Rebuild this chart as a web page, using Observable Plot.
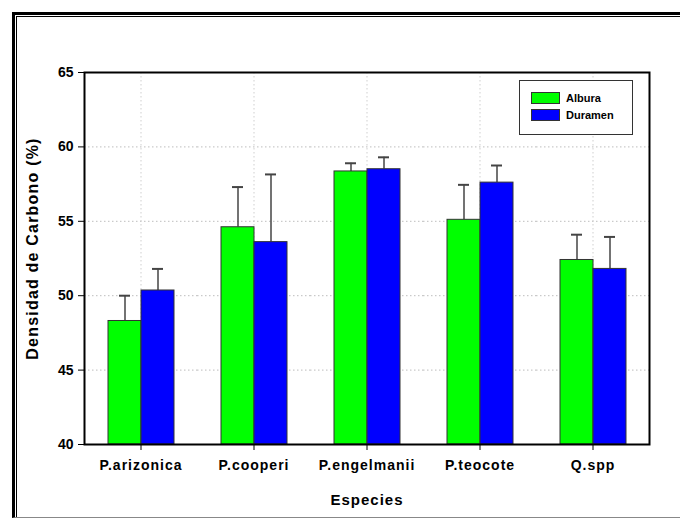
<!DOCTYPE html>
<html>
<head>
<meta charset="utf-8">
<script src="https://cdn.jsdelivr.net/npm/d3@7"></script>
<script src="https://cdn.jsdelivr.net/npm/@observablehq/plot@0.6"></script>
<style>
  html, body { margin: 0; padding: 0; background: #fff; }
  #wrap { position: relative; width: 680px; height: 520px; overflow: hidden; background: #fff; }
  #border1 { position: absolute; left: 12px; top: 12px; width: 700px; height: 502px;
    border-top: 3px solid #000; border-left: 3px solid #000; border-bottom: 1px solid #888; pointer-events: none; }
  #border2 { position: absolute; left: 1px; top: 1px; right: 0; bottom: 0;
    border-top: 1px solid #000; border-left: 1px solid #000; }
  #legend { position: absolute; left: 519px; top: 80px; width: 112px; height: 53px;
    border: 1px solid #333; background: #fff; font-family: "Liberation Sans", Arial, sans-serif;
    font-weight: bold; font-size: 11px; }
  .item { position: absolute; left: 11px; height: 12px; display: flex; align-items: center; }
  .sw { width: 27px; height: 10px; border: 1px solid #333; margin-right: 6px; }
</style>
</head>
<body>
<div id="wrap"></div>
<script>
const species = ["P.arizonica", "P.cooperi", "P.engelmanii", "P.teocote", "Q.spp"];
const series = ["Albura", "Duramen"];
const colors = ["#00ff00", "#0000ff"];
const albura = [48.3, 54.6, 58.35, 55.1, 52.4];
const alburaSD = [1.7, 2.7, 0.55, 2.35, 1.7];
const duramen = [50.35, 53.6, 58.5, 57.6, 51.8];
const duramenSD = [1.45, 4.55, 0.8, 1.15, 2.15];
const yTicks = [40, 45, 50, 55, 60, 65];
const gridTicks = [45, 50, 55, 60];

const data = [];
species.forEach((s, i) => {
  data.push({species: s, serie: series[0], value: albura[i], sd: alburaSD[i]});
  data.push({species: s, serie: series[1], value: duramen[i], sd: duramenSD[i]});
});

const font = "'Liberation Sans', Arial, sans-serif";

const chart = Plot.plot({
  width: 680,
  height: 520,
  marginLeft: 83,
  marginRight: 31,
  marginTop: 72,
  marginBottom: 76,
  style: {fontFamily: font, background: "transparent"},
  fx: {domain: species, padding: 0},
  x: {domain: series, paddingInner: 0, paddingOuter: 0.69, axis: null},
  y: {domain: [40, 65]},
  color: {domain: series, range: colors},
  marks: [
    Plot.gridY(gridTicks, {stroke: "#bdbdbd", strokeOpacity: 1, strokeDasharray: "1.5,2.5"}),
    Plot.gridFx({stroke: "#cfcfcf", strokeOpacity: 1, strokeDasharray: "1.5,2.5"}),
    Plot.ruleX(data, {fx: "species", x: "serie", y1: "value", y2: d => d.value + d.sd, stroke: "#444", strokeWidth: 1.5}),
    Plot.tickY(data, {fx: "species", x: "serie", y: d => d.value + d.sd, stroke: "#444", strokeWidth: 2, insetLeft: 11, insetRight: 11}),
    Plot.barY(data, {fx: "species", x: "serie", y1: 40, y2: "value", fill: "serie", stroke: "#333", strokeWidth: 1}),
    Plot.frame({facet: "super", stroke: "#000", strokeWidth: 2}),
    Plot.axisY(yTicks, {tickSize: 6, tickPadding: 5, fontSize: 14, fontWeight: "bold",
      label: "Densidad de Carbono (%)", labelAnchor: "center", labelArrow: "none", labelOffset: 58}),
    Plot.axisFx({anchor: "bottom", tickSize: 6, tickPadding: 10, fontSize: 14, fontWeight: "bold",
      label: "Especies", labelAnchor: "center", labelOffset: 60})
  ]
});
document.getElementById("wrap").appendChild(chart);

// Style axis label text
d3.select(chart).selectAll("g[aria-label='y-axis label'] text")
  .style("font-size", "16px").style("font-weight", "bold").style("letter-spacing", "1.2px")
  .attr("dx", 10);
d3.select(chart).selectAll("g[aria-label='fx-axis label'] text")
  .style("font-size", "15px").style("font-weight", "bold").style("letter-spacing", "1px");
d3.select(chart).selectAll("g[aria-label='fx-axis tick label'] text").style("letter-spacing", "1px");

const border = document.createElement("div");
border.id = "border1";
border.innerHTML = '<div id="border2"></div>';
document.getElementById("wrap").appendChild(border);

const legend = document.createElement("div");
legend.id = "legend";
series.forEach((s, i) => {
  const it = document.createElement("div");
  it.className = "item";
  it.style.top = (11 + i * 17) + "px";
  it.innerHTML = `<div class="sw" style="background:${colors[i]}"></div><span>${s}</span>`;
  legend.appendChild(it);
});
document.getElementById("wrap").appendChild(legend);
</script>
</body>
</html>
